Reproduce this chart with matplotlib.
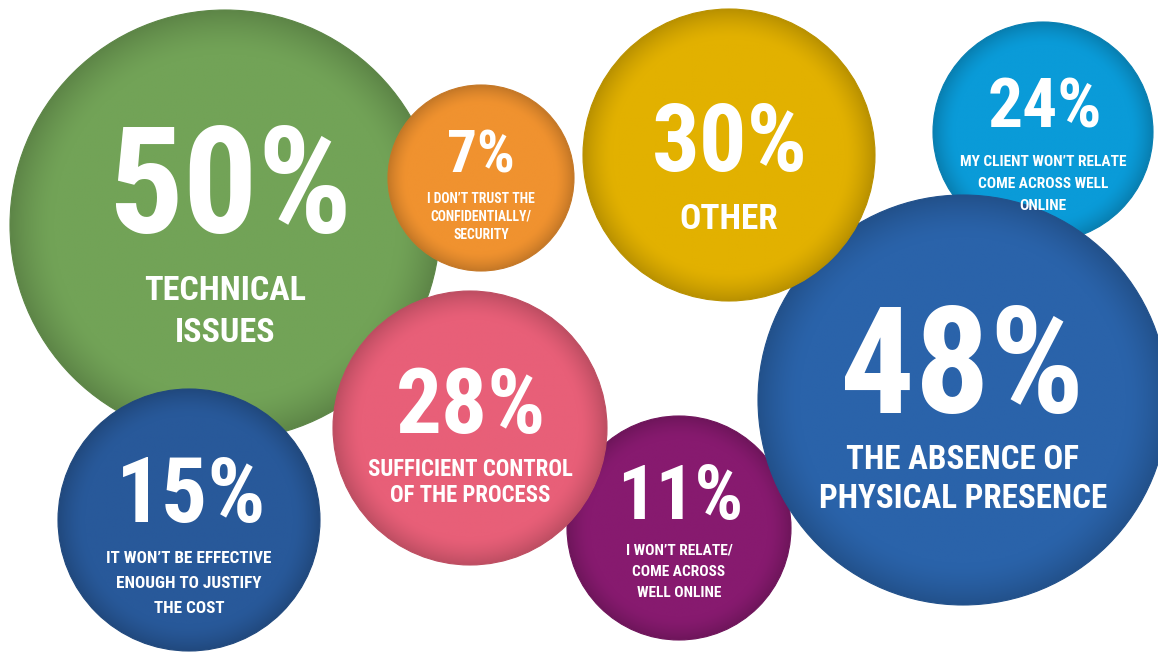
import matplotlib
matplotlib.use('Agg')
import matplotlib.pyplot as plt
from matplotlib import font_manager
from matplotlib.colors import to_rgb
from matplotlib.patches import Circle
import numpy as np

# survey answers
values = [50, 7, 30, 24, 48, 28, 15, 11]
labels = [
    "TECHNICAL\nISSUES",
    "I DON\u2019T TRUST THE\nCONFIDENTIALLY/\nSECURITY",
    "OTHER",
    "MY CLIENT WON\u2019T RELATE\nCOME ACROSS WELL\nONLINE",
    "THE ABSENCE OF\nPHYSICAL PRESENCE",
    "SUFFICIENT CONTROL\nOF THE PROCESS",
    "IT WON\u2019T BE EFFECTIVE\nENOUGH TO JUSTIFY\nTHE COST",
    "I WON\u2019T RELATE/\nCOME ACROSS\nWELL ONLINE",
]
colors = ["#72A357", "#F0922F", "#E2B100", "#0A9BD8",
          "#2A63AA", "#E85F78", "#28599A", "#871A6F"]

# bubble layout in pixel space (y grows downwards)
centers = [(225, 225), (481, 178), (729, 155), (1043, 132),
           (963, 400), (470, 428), (189, 520), (679, 528)]
radii = [215, 93, 146, 110, 205, 137, 131, 112]
stack = [0, 7, 3, 4, 5, 6, 2, 1]          # drawing order
pct_x = [230, 481, 730, 1045, 962, 471, 191, 680]
pct_mid = [180, 151, 136.5, 102.5, 360, 400, 489, 491.5]
pct_size = [130, 52, 83, 61, 130, 80, 80, 67]
lab_mid = [288, 198, 216, 160, 457.5, 468, 556.5, 548.5]
lab_pitch = [42, 18, 0, 22, 39, 25.5, 25, 21.5]
lab_size = [30, 12, 31, 13.5, 29, 20, 15, 13.5]

# pick a narrow bold face if one is around
names = {f.name for f in font_manager.fontManager.ttflist}
condensed = {f.name for f in font_manager.fontManager.ttflist
             if 'condensed' in str(f.stretch) or 'Condensed' in f.fname}
FAMILY, STRETCH, SCALE = 'DejaVu Sans', 'normal', 0.62
for cand in ['Liberation Sans Narrow', 'Roboto Condensed', 'Open Sans Condensed']:
    if cand in names:
        FAMILY, STRETCH, SCALE = cand, 'normal', 0.82
        break
else:
    if 'DejaVu Sans' in condensed:
        FAMILY, STRETCH, SCALE = 'DejaVu Sans', 'condensed', 0.72

W, H = 1158, 652
fig = plt.figure(figsize=(W / 100, H / 100), dpi=100)
fig.patch.set_facecolor('white')
ax = fig.add_axes([0, 0, 1, 1])


def shaded_disc(ax, x, y, r, color, z):
    """Flat disc with a soft darker rim."""
    n = 300
    g = np.linspace(-1, 1, n)
    xx, yy = np.meshgrid(g, g)
    d = np.sqrt(xx ** 2 + yy ** 2)
    shade = np.clip((d - 0.80) / 0.20, 0, 1) ** 1.5 * 0.18
    rgb = np.array(to_rgb(color))
    img = rgb[None, None, :] * (1 - shade[..., None])
    clip = Circle((x, y), r, facecolor='none', edgecolor='none')
    ax.add_patch(clip)
    im = ax.imshow(img, extent=(x - r, x + r, y + r, y - r), zorder=z,
                   interpolation='bilinear')
    im.set_clip_path(clip)
    ax.add_patch(Circle((x, y), r, facecolor='none',
                        edgecolor=tuple(rgb * 0.82), linewidth=0.8, zorder=z + 0.1))


def txt(x, mid, s, size):
    # caps height in px is close to the point size at 100 dpi
    size = size * SCALE
    ax.text(x, mid + size * 0.5, s, ha='center', va='baseline', color='white',
            fontsize=size, fontweight='bold', family=FAMILY,
            fontstretch=STRETCH, zorder=100)


for z, i in enumerate(stack):
    x, y = centers[i]
    shaded_disc(ax, x, y, radii[i], colors[i], z * 2 + 1)

for i, v in enumerate(values):
    txt(pct_x[i], pct_mid[i], f"{v}%", pct_size[i])
    for k, line in enumerate(labels[i].split("\n")):
        txt(centers[i][0], lab_mid[i] + k * lab_pitch[i], line, lab_size[i])

ax.set_xlim(0, W)
ax.set_ylim(H, 0)
ax.set_aspect('equal')
ax.axis('off')

fig.savefig('out.png', dpi=100, facecolor='white')
plt.close(fig)
